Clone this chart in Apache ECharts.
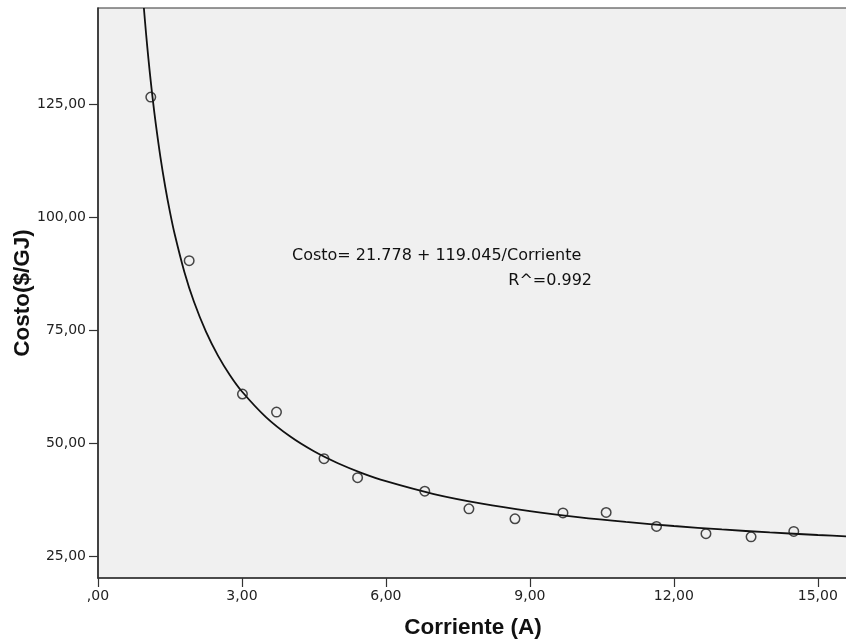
<!DOCTYPE html>
<html>
<head>
<meta charset="utf-8">
<script src="https://cdn.jsdelivr.net/npm/echarts@6/dist/echarts.min.js"></script>
<style>
html,body{margin:0;padding:0;background:#fff;}
#chart{width:846px;height:640px;}
</style>
</head>
<body>
<div id="chart"></div>
<script>
// Observed points (Corriente A, Costo $/GJ)
const corriente = [1.10, 1.90, 3.01, 3.72, 4.71, 5.41, 6.81, 7.73, 8.69, 9.69, 10.59, 11.64, 12.67, 13.61, 14.50];
const costo     = [126.6, 90.4, 60.9, 56.9, 46.6, 42.4, 39.4, 35.5, 33.3, 34.6, 34.7, 31.6, 30.0, 29.3, 30.5];

// Fitted curve
const curveX = [0.956, 1.0, 1.05, 1.1, 1.15, 1.2, 1.3, 1.4, 1.5, 1.6, 1.8, 2.0, 2.25, 2.5, 2.75, 3.0, 3.5, 4.0, 4.5, 5.0, 5.5, 6.0, 7.0, 8.0, 9.0, 10.0, 11.0, 12.0, 13.0, 14.0, 15.0, 15.7];
const curveY = [146.30, 140.82, 135.15, 130.00, 125.30, 120.98, 113.35, 106.81, 101.14, 96.18, 87.91, 81.30, 74.69, 69.40, 65.07, 61.46, 55.79, 51.54, 48.23, 45.59, 43.42, 41.62, 38.78, 36.66, 35.01, 33.68, 32.60, 31.70, 30.94, 30.28, 29.71, 29.36];

const xTicks = [0, 3, 6, 9, 12, 15];
const yTicks = [25, 50, 75, 100, 125];

const equationText = 'Costo= 21.778 + 119.045/Corriente';
const rText = 'R^=0.992';

function fmt(v) {
  if (v === 0) return ',00';
  return v.toFixed(2).replace('.', ',');
}

const chart = echarts.init(document.getElementById('chart'), null, {renderer: 'canvas'});
chart.setOption({
  animation: false,
  backgroundColor: '#ffffff',
  grid: {
    left: 98, top: 8, right: -2, bottom: 62,
    outerBoundsMode: 'none', containLabel: false,
    show: true, backgroundColor: '#f0f0f0', borderColor: '#333', borderWidth: 1.2
  },
  xAxis: {
    type: 'value', min: 0, max: 15.63,
    name: 'Corriente (A)', nameLocation: 'middle', nameGap: 38, nameMoveOverlap: false,
    nameTextStyle: {fontFamily: 'Liberation Sans', fontWeight: 'bold', fontSize: 22.5, color: '#111'},
    axisLine: {lineStyle: {color: '#333', width: 1.6}},
    axisTick: {show: true, length: 9, lineStyle: {color: '#333', width: 1.2}, customValues: xTicks},
    axisLabel: {customValues: xTicks, formatter: fmt, margin: 11, fontFamily: 'DejaVu Sans', fontSize: 14, color: '#222'},
    splitLine: {show: false}
  },
  yAxis: {
    type: 'value', min: 20.2, max: 146.3,
    name: 'Costo($/GJ)', nameLocation: 'middle', nameGap: 64, nameRotate: 90, nameMoveOverlap: false,
    nameTextStyle: {fontFamily: 'Liberation Sans', fontWeight: 'bold', fontSize: 22.5, color: '#111'},
    axisLine: {show: true, lineStyle: {color: '#333', width: 1.6}},
    axisTick: {show: true, length: 9, lineStyle: {color: '#333', width: 1.2}, customValues: yTicks},
    axisLabel: {customValues: yTicks, formatter: fmt, margin: 12, fontFamily: 'DejaVu Sans', fontSize: 14, color: '#222'},
    splitLine: {show: false}
  },
  series: [
    {
      type: 'line',
      data: curveX.map((x, i) => [x, curveY[i]]),
      showSymbol: false, symbol: 'none',
      smooth: 0.3,
      lineStyle: {color: '#111', width: 1.8},
      clip: true, silent: true, z: 2
    },
    {
      type: 'scatter',
      data: corriente.map((x, i) => [x, costo[i]]),
      symbol: 'circle', symbolSize: 9.5,
      itemStyle: {color: 'rgba(0,0,0,0)', borderColor: '#1a1a1a', borderWidth: 1.5},
      z: 3
    }
  ],
  graphic: [
    {type: 'text', left: 292, top: 248, style: {text: equationText, font: '16px "DejaVu Sans"', fill: '#111'}},
    {type: 'text', right: 254, top: 273, style: {text: rText, font: '16px "DejaVu Sans"', fill: '#111', textAlign: 'right'}}
  ]
});
</script>
</body>
</html>
